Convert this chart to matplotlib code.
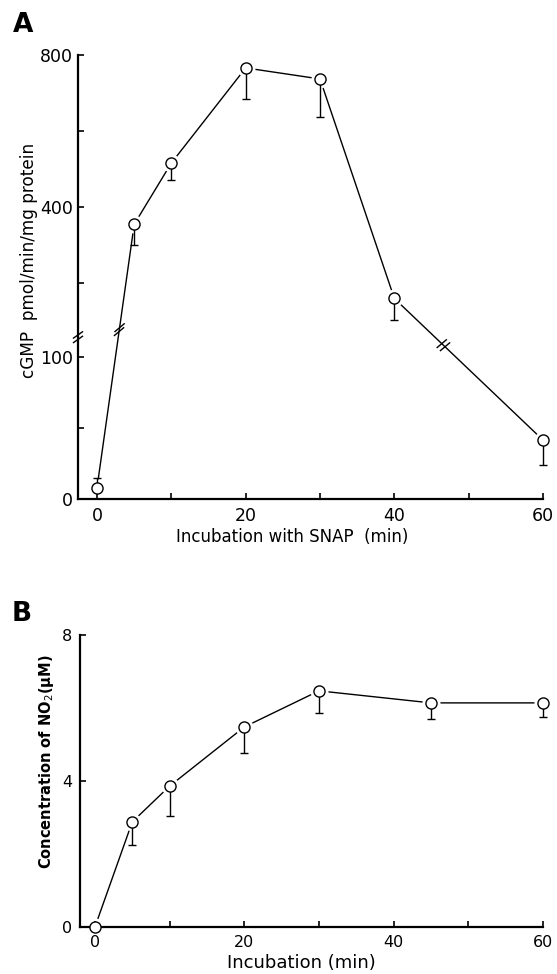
import numpy as np
import matplotlib
matplotlib.use("Agg")
import matplotlib.pyplot as plt
from matplotlib.lines import Line2D

# ---------------- data ----------------
# Panel A: cGMP production vs incubation time with SNAP
a_time = [0, 5, 10, 20, 30, 40, 60]
a_cgmp = [8, 355, 516, 766, 737, 160, 41.5]
a_err_lo = [0, 55, 45, 82, 100, 34, 17.5]
a_err_hi = [7, 0, 0, 0, 0, 0, 0]
a_xticks = [0, 20, 40, 60]
a_xminor = [10, 30, 50]
a_yticks = [0, 100, 400, 800]
a_yminor = [50, 200, 600]

# Panel B: NO2 concentration vs incubation time
b_time = [0, 5, 10, 20, 30, 45, 60]
b_no2 = [0, 2.88, 3.86, 5.48, 6.47, 6.14, 6.14]
b_err_lo = [0, 0.63, 0.82, 0.71, 0.61, 0.44, 0.39]
b_err_hi = [0, 0, 0, 0, 0, 0, 0]
b_xticks = [0, 20, 40, 60]
b_xminor = [10, 30, 50]
b_yticks = [0, 4, 8]

# ---------------- figure ----------------
W, H, DPI = 557, 974, 100
fig = plt.figure(figsize=(W / DPI, H / DPI), dpi=DPI)
plt.rcParams["font.family"] = ["DejaVu Sans"]


def px_axes(left, top, right, bottom):
    return fig.add_axes([left / W, 1 - bottom / H, (right - left) / W, (bottom - top) / H])


# broken y scale for panel A (piecewise linear, lower part expanded)
K = 0.268
UP_OFF = 152.0
T = (UP_OFF - 200 * K) / (1 - K)


def fwd(y):
    y = np.asarray(y, dtype=float)
    return np.where(y <= T, y, UP_OFF + (y - 200) * K)


def inv(u):
    u = np.asarray(u, dtype=float)
    return np.where(u <= T, u, 200 + (u - UP_OFF) / K)


def style(ax, lw=1.6):
    ax.set_axisbelow(False)
    for s in ["top", "right"]:
        ax.spines[s].set_visible(False)
    for s in ["left", "bottom"]:
        ax.spines[s].set_linewidth(lw)
    ax.tick_params(which="both", direction="in", length=4.5, width=1.2)
    ax.tick_params(axis="x", pad=5.5)
    ax.tick_params(axis="y", pad=3.5)


def draw_series(ax, x, y, lo, hi):
    ax.plot(x, y, color="k", lw=1.0, zorder=1, clip_on=False)
    ax.plot(x, y, "o", ms=13, mfc="white", mec="none", zorder=2, clip_on=False)
    ax.errorbar(x, y, yerr=[lo, hi], fmt="none", ecolor="k", elinewidth=1.0,
                capsize=3.2, capthick=1.0, zorder=3, clip_on=False)
    ax.plot(x, y, "o", ms=8, mfc="white", mec="k", mew=1.0, zorder=4, clip_on=False)


def slashes(disp_xy, sep_vec, length=12, angle=40):
    inv_fig = fig.transFigure.inverted()
    a = np.deg2rad(angle)
    d = np.array([np.cos(a), np.sin(a)]) * length / 2
    for s in (-0.5, 0.5):
        c = np.asarray(disp_xy) + s * np.asarray(sep_vec)
        p = inv_fig.transform([c - d, c + d])
        fig.add_artist(Line2D(p[:, 0], p[:, 1], color="k", lw=1.0,
                              transform=fig.transFigure, zorder=10))


# ---------------- panel A ----------------
axA = px_axes(78, 55, 543, 499)
axA.set_yscale("function", functions=(fwd, inv))
axA.set_xlim(-2.56, 60)
axA.set_ylim(0, 800)
style(axA)
axA.set_xticks(a_xticks)
axA.set_xticks(a_xminor, minor=True)
axA.set_yticks(a_yticks)
axA.set_yticks(a_yminor, minor=True)
axA.set_yticklabels([str(v) for v in a_yticks])
axA.tick_params(which="minor", labelleft=False, labelbottom=False)
axA.tick_params(labelsize=12.5)
draw_series(axA, a_time, a_cgmp, a_err_lo, a_err_hi)

fig.text(29 / W, 1 - 260 / H, "cGMP  pmol/min/mg protein", rotation=90,
         ha="center", va="center", fontsize=12.2)
fig.text(292 / W, 1 - 537 / H, "Incubation with SNAP  (min)",
         ha="center", va="center", fontsize=12)
fig.text(23 / W, 1 - 25 / H, "A", ha="center", va="center",
         fontsize=19, fontweight="bold")

# break marks in panel A
fig.canvas.draw()
tA = axA.transData
p0 = tA.transform((a_time[0], a_cgmp[0]))
p1 = tA.transform((a_time[1], a_cgmp[1]))
dirv = (p1 - p0) / np.linalg.norm(p1 - p0)
slashes(p0 + 0.6 * (p1 - p0), dirv * 4)
p5 = tA.transform((a_time[5], a_cgmp[5]))
p6 = tA.transform((a_time[6], a_cgmp[6]))
dirv = (p6 - p5) / np.linalg.norm(p6 - p5)
slashes(p5 + 0.33 * (p6 - p5), dirv * 4.5)
pb = tA.transform((axA.get_xlim()[0], 114))
slashes(pb, np.array([0, 4.5]), length=11, angle=35)

# ---------------- panel B ----------------
axB = px_axes(80, 635, 543, 927)
axB.set_xlim(-2.0, 60)
axB.set_ylim(0, 8)
style(axB)
axB.set_xticks(b_xticks)
axB.set_xticks(b_xminor, minor=True)
axB.set_yticks(b_yticks)
axB.tick_params(which="minor", labelleft=False, labelbottom=False)
axB.tick_params(labelsize=11.5)
axB.tick_params(axis="y", pad=5.5)
draw_series(axB, b_time, b_no2, b_err_lo, b_err_hi)

fig.text(47 / W, 1 - 762 / H, "Concentration of NO$_2$(\u03bcM)", rotation=90,
         ha="center", va="center", fontsize=10.5, fontweight="bold")
fig.text(301 / W, 1 - 963 / H, "Incubation (min)", ha="center", va="center",
         fontsize=13)
fig.text(22 / W, 1 - 614 / H, "B", ha="center", va="center",
         fontsize=19, fontweight="bold")

fig.savefig("out.png", dpi=DPI)
